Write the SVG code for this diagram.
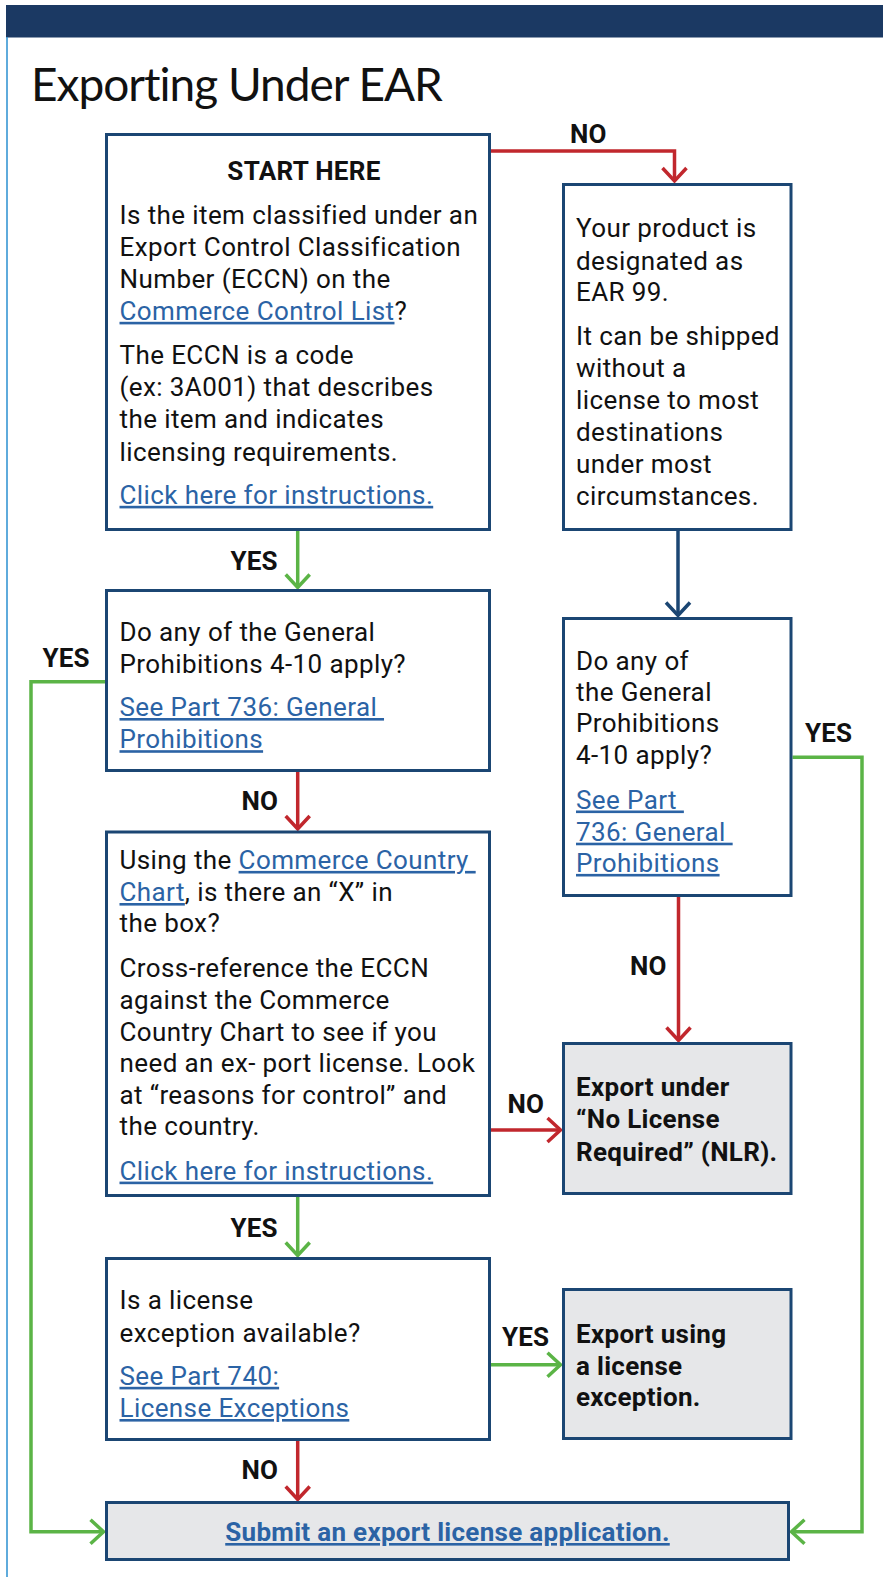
<svg xmlns="http://www.w3.org/2000/svg" width="883" height="1577" viewBox="0 0 883 1577">
<defs>
<style>
.box{fill:#fff;stroke:#1b4673;stroke-width:3}
.gray{fill:#e6e7e9}
.t{font-family:Roboto,"Liberation Sans",sans-serif;font-size:26px;letter-spacing:0.4px;fill:#111}
.b{font-weight:bold;letter-spacing:0.3px}
.lk{fill:#2b63a5;text-decoration:underline}
.lbl{font-family:Roboto,"Liberation Sans",sans-serif;font-size:26px;letter-spacing:0.2px;font-weight:bold;fill:#111}
.red{fill:none;stroke:#c1272d;stroke-width:3.5}
.grn{fill:none;stroke:#5bb446;stroke-width:3.5}
.nav{fill:none;stroke:#1b4673;stroke-width:3.5}
</style>
<marker id="mr" markerUnits="userSpaceOnUse" markerWidth="40" markerHeight="40" viewBox="-20 -20 40 40" refX="0" refY="0" orient="auto"><path d="M-13,-12 L0,0 L-13,12" fill="none" stroke="#c1272d" stroke-width="3.5"/></marker>
<marker id="mg" markerUnits="userSpaceOnUse" markerWidth="40" markerHeight="40" viewBox="-20 -20 40 40" refX="0" refY="0" orient="auto"><path d="M-13,-12 L0,0 L-13,12" fill="none" stroke="#5bb446" stroke-width="3.5"/></marker>
<marker id="mn" markerUnits="userSpaceOnUse" markerWidth="40" markerHeight="40" viewBox="-20 -20 40 40" refX="0" refY="0" orient="auto"><path d="M-13,-12 L0,0 L-13,12" fill="none" stroke="#1b4673" stroke-width="3.5"/></marker>
</defs>
<rect x="0" y="0" width="883" height="1577" fill="#fff"/>
<rect x="6" y="5" width="877" height="32.5" fill="#1b3963"/>
<line x1="7" y1="37" x2="7" y2="1577" stroke="#2a8fd0" stroke-width="1.5"/>
<text x="31" y="101" font-family="Lato,'Noto Sans',sans-serif" font-size="46" font-weight="400" letter-spacing="-1" fill="#111">Exporting Under EAR</text>

<g id="connectors">
<path class="red" d="M491,151 H674.5 V181" marker-end="url(#mr)"/>
<path class="grn" d="M297.7,531 V587.5" marker-end="url(#mg)"/>
<path class="nav" d="M678,531 V615.5" marker-end="url(#mn)"/>
<path class="red" d="M297.7,772 V829" marker-end="url(#mr)"/>
<path class="red" d="M678.5,897 V1040.5" marker-end="url(#mr)"/>
<path class="red" d="M491,1130 H560.5" marker-end="url(#mr)"/>
<path class="grn" d="M297.7,1197 V1255.5" marker-end="url(#mg)"/>
<path class="grn" d="M491,1364.7 H560.5" marker-end="url(#mg)"/>
<path class="red" d="M297.7,1441 V1499.5" marker-end="url(#mr)"/>
<path class="grn" d="M105,681.7 H31 V1531.7 H103.5" marker-end="url(#mg)"/>
<path class="grn" d="M792.5,757.3 H862 V1531.7 H791.5" marker-end="url(#mg)"/>
<text class="lbl" x="570" y="142.7">NO</text>
<text class="lbl" x="230.5" y="570">YES</text>
<text class="lbl" x="42.5" y="666.7">YES</text>
<text class="lbl" x="805" y="741.7">YES</text>
<text class="lbl" x="241.5" y="810">NO</text>
<text class="lbl" x="630" y="975">NO</text>
<text class="lbl" x="507.5" y="1112.7">NO</text>
<text class="lbl" x="230.5" y="1237">YES</text>
<text class="lbl" x="502" y="1346">YES</text>
<text class="lbl" x="241.5" y="1479">NO</text>
</g>

<g id="start">
<rect class="box" x="106.5" y="134.5" width="383" height="395"/>
<text class="t b" x="304" y="180" text-anchor="middle" font-size="24">START HERE</text>
<text class="t" x="119.5" y="224.2">Is the item classified under an</text>
<text class="t" x="119.5" y="256.4">Export Control Classification</text>
<text class="t" x="119.5" y="287.6">Number (ECCN) on the</text>
<text class="t" x="119.5" y="319.8"><tspan class="lk">Commerce Control List</tspan>?</text>
<text class="t" x="119.5" y="364">The ECCN is a code</text>
<text class="t" x="119.5" y="396.2">(ex: 3A001) that describes</text>
<text class="t" x="119.5" y="428.4">the item and indicates</text>
<text class="t" x="119.5" y="460.6">licensing requirements.</text>
<text class="t lk" x="119.5" y="503.8">Click here for instructions.</text>
</g>

<g id="ear99">
<rect class="box" x="563.5" y="184.5" width="227.5" height="345"/>
<text class="t" x="576" y="237.3">Your product is</text>
<text class="t" x="576" y="269.5">designated as</text>
<text class="t" x="576" y="300.7">EAR 99.</text>
<text class="t" x="576" y="344.9">It can be shipped</text>
<text class="t" x="576" y="377.1">without a</text>
<text class="t" x="576" y="409.3">license to most</text>
<text class="t" x="576" y="440.5">destinations</text>
<text class="t" x="576" y="472.6">under most</text>
<text class="t" x="576" y="504.8">circumstances.</text>
</g>

<g id="prohib-left">
<rect class="box" x="106.5" y="590.5" width="383" height="180"/>
<text class="t" x="119.5" y="640.6">Do any of the General</text>
<text class="t" x="119.5" y="672.8">Prohibitions 4-10 apply?</text>
<text class="t lk" x="119.5" y="716" xml:space="preserve">See Part 736: General </text>
<text class="t lk" x="119.5" y="748.2">Prohibitions</text>
</g>

<g id="prohib-right">
<rect class="box" x="563.5" y="618.5" width="227.5" height="277"/>
<text class="t" x="576" y="669.8">Do any of</text>
<text class="t" x="576" y="700.9">the General</text>
<text class="t" x="576" y="732.1">Prohibitions</text>
<text class="t" x="576" y="764.3">4-10 apply?</text>
<text class="t lk" x="576" y="808.5" xml:space="preserve">See Part </text>
<text class="t lk" x="576" y="840.7" xml:space="preserve">736: General </text>
<text class="t lk" x="576" y="871.9">Prohibitions</text>
</g>

<g id="country-chart">
<rect class="box" x="106.5" y="832" width="383" height="363.5"/>
<text class="t" x="119.5" y="868.9" xml:space="preserve">Using the <tspan class="lk">Commerce Country </tspan></text>
<text class="t" x="119.5" y="901"><tspan class="lk">Chart</tspan>, is there an “X” in</text>
<text class="t" x="119.5" y="932.2">the box?</text>
<text class="t" x="119.5" y="976.5">Cross-reference the ECCN</text>
<text class="t" x="119.5" y="1008.7">against the Commerce</text>
<text class="t" x="119.5" y="1040.9">Country Chart to see if you</text>
<text class="t" x="119.5" y="1072">need an ex- port license. Look</text>
<text class="t" x="119.5" y="1104.2">at “reasons for control” and</text>
<text class="t" x="119.5" y="1135.4">the country.</text>
<text class="t lk" x="119.5" y="1179.6">Click here for instructions.</text>
</g>

<g id="nlr">
<rect class="box gray" x="563.5" y="1043.5" width="227.5" height="150"/>
<text class="t b" x="576" y="1096.2">Export under</text>
<text class="t b" x="576" y="1128.4">“No License</text>
<text class="t b" x="576" y="1160.5">Required” (NLR).</text>
</g>

<g id="exception-q">
<rect class="box" x="106.5" y="1258.5" width="383" height="181"/>
<text class="t" x="119.5" y="1309.4">Is a license</text>
<text class="t" x="119.5" y="1341.6">exception available?</text>
<text class="t lk" x="119.5" y="1384.8">See Part 740:</text>
<text class="t lk" x="119.5" y="1417">License Exceptions</text>
</g>

<g id="exception">
<rect class="box gray" x="563.5" y="1289.5" width="227.5" height="149"/>
<text class="t b" x="576" y="1342.6">Export using</text>
<text class="t b" x="576" y="1374.7">a license</text>
<text class="t b" x="576" y="1405.9">exception.</text>
</g>

<g id="submit">
<rect class="box gray" x="106.5" y="1502.5" width="682" height="57"/>
<text class="t b lk" x="447.5" y="1541" text-anchor="middle" font-size="26">Submit an export license application.</text>
</g>
</svg>
